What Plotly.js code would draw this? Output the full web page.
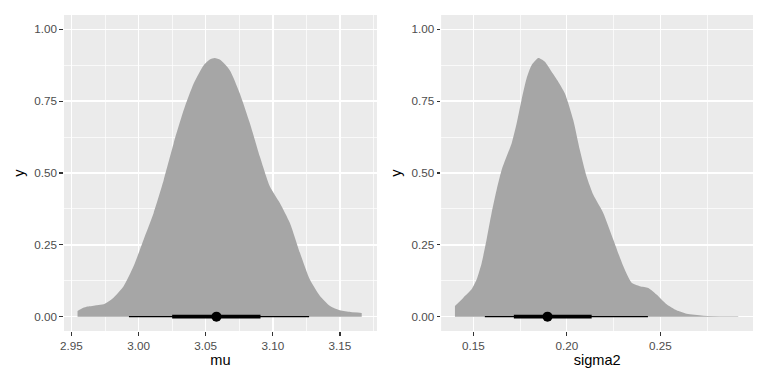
<!DOCTYPE html>
<html>
<head>
<meta charset="utf-8">
<script src="https://cdn.plot.ly/plotly-3.0.1.min.js"></script>
<style>html,body{margin:0;padding:0;background:#fff;}#chart{width:768px;height:384px;}</style>
</head>
<body>
<div id="chart"></div>
<script>
// Posterior density slab for mu (scaled so max = 0.9)
var muX = [2.9545, 2.9585, 2.9620, 2.9690, 2.9739, 2.9813, 2.9888, 2.9963, 3.0037, 3.0112, 3.0187, 3.0261, 3.0336, 3.0411, 3.0485, 3.0530, 3.0567, 3.0610, 3.0679, 3.0754, 3.0829, 3.0903, 3.0978, 3.1053, 3.1127, 3.1202, 3.1276, 3.1351, 3.1426, 3.1500, 3.1580, 3.1662];
var muY = [0.020, 0.030, 0.035, 0.040, 0.043, 0.066, 0.106, 0.176, 0.268, 0.361, 0.476, 0.603, 0.719, 0.812, 0.875, 0.895, 0.900, 0.893, 0.858, 0.777, 0.673, 0.557, 0.453, 0.395, 0.326, 0.222, 0.129, 0.072, 0.037, 0.022, 0.016, 0.013];
// Posterior density slab for sigma2
var s2X = [0.1402, 0.1447, 0.1491, 0.1518, 0.1545, 0.1571, 0.1598, 0.1625, 0.1652, 0.1678, 0.1705, 0.1732, 0.1758, 0.1785, 0.1812, 0.1848, 0.1883, 0.1919, 0.1955, 0.1990, 0.2035, 0.2070, 0.2106, 0.2142, 0.2195, 0.2249, 0.2302, 0.2347, 0.2391, 0.2436, 0.2480, 0.2534, 0.2587, 0.2641, 0.2730, 0.2917];
var s2Y = [0.037, 0.066, 0.095, 0.129, 0.187, 0.268, 0.361, 0.442, 0.511, 0.557, 0.603, 0.673, 0.754, 0.829, 0.875, 0.900, 0.887, 0.852, 0.817, 0.777, 0.684, 0.580, 0.488, 0.424, 0.361, 0.268, 0.176, 0.118, 0.106, 0.100, 0.077, 0.043, 0.022, 0.010, 0.0035, 0.001];
// Interval summaries: [lower, upper]
var muOuter = [2.9928, 3.1270];
var muInner = [3.0250, 3.0908];
var muPoint = 3.0580;
var s2Outer = [0.1562, 0.2434];
var s2Inner = [0.1717, 0.2133];
var s2Point = 0.1897;
var yTicks = [0, 0.25, 0.5, 0.75, 1];

var slabCol = '#A6A6A6';
var traces = [];
function addPanel(xs, ys, outer, inner, pt, xa, ya) {
  traces.push({x: xs, y: ys, xaxis: xa, yaxis: ya, type: 'scatter', mode: 'lines',
    line: {width: 0, shape: 'spline', smoothing: 0.6, color: slabCol}, fill: 'tozeroy', fillcolor: slabCol, hoverinfo: 'skip'});
  traces.push({x: outer, y: [0, 0], xaxis: xa, yaxis: ya, type: 'scatter', mode: 'lines', line: {color: '#000', width: 1.4}});
  traces.push({x: inner, y: [0, 0], xaxis: xa, yaxis: ya, type: 'scatter', mode: 'lines', line: {color: '#000', width: 3.8}});
  traces.push({x: [pt], y: [0], xaxis: xa, yaxis: ya, type: 'scatter', mode: 'markers', marker: {color: '#000', size: 10}});
}
addPanel(muX, muY, muOuter, muInner, muPoint, 'x', 'y');
addPanel(s2X, s2Y, s2Outer, s2Inner, s2Point, 'x2', 'y2');

var tickFont = {family: 'Liberation Sans, Arial, sans-serif', size: 11.7, color: '#4D4D4D'};
var titleFont = {family: 'Liberation Sans, Arial, sans-serif', size: 14.6, color: '#000'};
function xAxis(dom, rng, tickvals, title, anchor) {
  return {domain: dom, range: rng, anchor: anchor, tickmode: 'array', tickvals: tickvals, tickformat: '.2f',
    ticks: 'outside', ticklen: 3.7, tickwidth: 1.1, tickcolor: '#333333', tickfont: tickFont,
    showgrid: true, gridcolor: '#FFFFFF', gridwidth: 1.4, zeroline: false, showline: false,
    minor: {dtick: 0.025, tick0: 0.025, showgrid: true, gridcolor: '#FFFFFF', gridwidth: 0.7, ticks: ''},
    title: {text: title, font: titleFont, standoff: 3}, fixedrange: true};
}
function yAxis(dom, anchor) {
  return {domain: dom, range: [-0.05, 1.05], anchor: anchor, tickmode: 'array', tickvals: yTicks, tickformat: '.2f',
    ticks: 'outside', ticklen: 3.7, tickwidth: 1.1, tickcolor: '#333333', tickfont: tickFont,
    showgrid: true, gridcolor: '#FFFFFF', gridwidth: 1.4, zeroline: false, showline: false,
    minor: {dtick: 0.125, tick0: 0.125, showgrid: true, gridcolor: '#FFFFFF', gridwidth: 0.7, ticks: ''},
    title: {text: 'y', font: titleFont, standoff: 6}, fixedrange: true};
}
var layout = {
  width: 768, height: 384, margin: {l: 0, r: 0, t: 0, b: 0},
  paper_bgcolor: '#FFFFFF', plot_bgcolor: '#EBEBEB', showlegend: false,
  xaxis: xAxis([0.0833, 0.4909], [2.9444, 3.1776], [2.95, 3.00, 3.05, 3.10, 3.15], 'mu', 'y'),
  yaxis: yAxis([0.138, 0.961], 'x'),
  xaxis2: xAxis([0.5746, 0.9805], [0.1329, 0.2996], [0.15, 0.20, 0.25], 'sigma2', 'y2'),
  yaxis2: yAxis([0.138, 0.961], 'x2'),
  shapes: [
    {type: 'rect', xref: 'x2 domain', yref: 'y2 domain', x0: 0, x1: 1, y0: 0, y1: 1, fillcolor: '#EBEBEB', line: {width: 0}, layer: 'below'}
  ]
};
Plotly.newPlot('chart', traces, layout, {displayModeBar: false, staticPlot: true});
</script>
</body>
</html>
